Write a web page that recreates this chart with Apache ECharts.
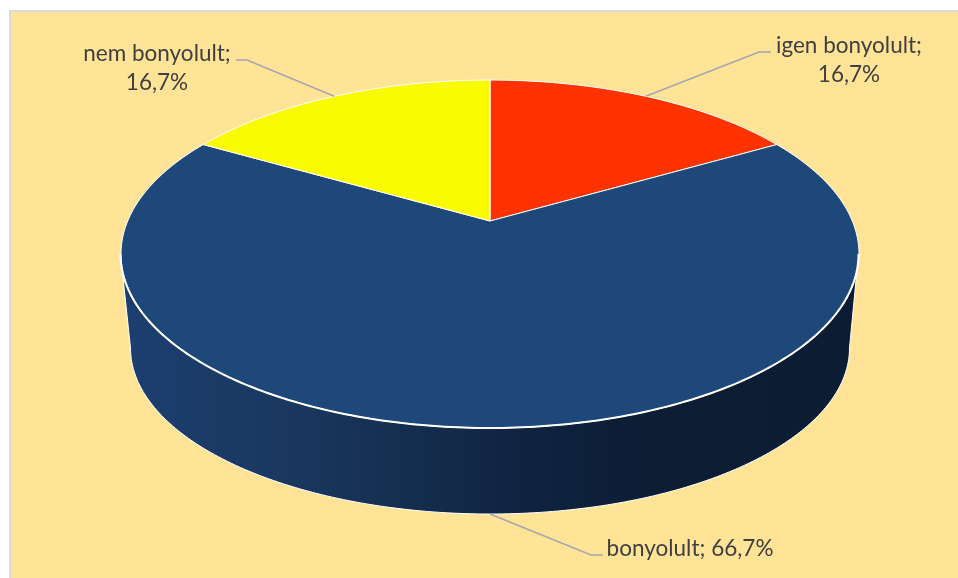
<!DOCTYPE html>
<html><head><meta charset="utf-8">
<style>html,body{margin:0;padding:0;background:#fff}#c{width:958px;height:578px}</style>
<script src="https://cdn.jsdelivr.net/npm/echarts@6/dist/echarts.min.js"></script>
</head><body><div id="c"></div>
<script>
var categories = ['igen bonyolult', 'bonyolult', 'nem bonyolult'];
var values = [16.7, 66.7, 16.7];
var sliceColors = ['#FF3300', '#1F487A', '#FAFA00'];
// label layout: text anchor, line break, leader elbow points
var labelLayouts = [
  {x: 849, y: 60, brk: true, elbow: [[759, 52], [771, 52]]},
  {x: 690, y: 549, brk: false, elbow: [[591, 555], [603, 555]]},
  {x: 157, y: 68.5, brk: true, elbow: [[247, 60], [236, 60]]}
];
var total = values.reduce(function (a, b) { return a + b; }, 0);
// perspective disc geometry
var CX = 490, CY = 221, A = 362.3, B = 167.7, K = 0.1897;
function project(frac) {
  var t = frac * 2 * Math.PI;
  var u = Math.sin(t), v = Math.cos(t), d = 1 + K * v;
  return [CX + A * u / d, CY - B * v / d];
}
function arcPts(f0, f1) {
  var n = Math.max(2, Math.ceil(Math.abs(f1 - f0) * 360)), p = [];
  for (var i = 0; i <= n; i++) p.push(project(f0 + (f1 - f0) * i / n));
  return p;
}
function frontRim() { // left-most to right-most of the top ellipse, through the front
  var p = [], ex = 489.5, ey = 254, rx = 369, ry = 174;
  for (var a = 180; a >= 0; a -= 1) {
    var r = a * Math.PI / 180;
    p.push([ex + rx * Math.cos(r), ey + ry * Math.sin(r)]);
  }
  return p;
}
function bottomRim() {
  var p = [], ex = 490, ey = 348, rx = 359.5, ry = 166;
  for (var a = 0; a <= 180; a += 1) {
    var r = a * Math.PI / 180;
    p.push([ex + rx * Math.cos(r), ey + ry * Math.sin(r)]);
  }
  return p;
}
var wallGradient = new echarts.graphic.LinearGradient(0, 0, 1, 0, [
  {offset: 0, color: '#1C3F70'},
  {offset: 0.22, color: '#1A3860'},
  {offset: 0.42, color: '#142C4C'},
  {offset: 0.55, color: '#0F2340'},
  {offset: 0.72, color: '#0C1D34'},
  {offset: 1, color: '#0C1C33'}
]);
var cumulative = [];
values.reduce(function (s, v, i) { cumulative[i] = s; return s + v; }, 0);

function renderItem(params, api) {
  var i = params.dataIndex, val = api.value(0);
  var f0 = cumulative[i] / total, f1 = f0 + val / total;
  var kids = [];
  if (i === 1) {
    var wall = frontRim().concat(bottomRim());
    kids.push({type: 'polygon', shape: {points: wall},
      style: {fill: wallGradient, stroke: '#FFFFFF', lineWidth: 1}});
  }
  var poly = [[CX, CY]].concat(arcPts(f0, f1));
  kids.push({type: 'polygon', shape: {points: poly},
    style: {fill: sliceColors[i], stroke: '#FFFFFF', lineWidth: 1}});
  if (i === 1) {
    kids.push({type: 'polyline', shape: {points: frontRim()},
      style: {fill: null, stroke: '#FFFFFF', lineWidth: 2}});
  }
  var mid = (f0 + f1) / 2, L = labelLayouts[i], anchor = project(mid);
  if (i === 1) anchor = [CX, 514];
  kids.push({type: 'polyline', shape: {points: [anchor].concat(L.elbow)},
    style: {fill: null, stroke: '#A3A8B0', lineWidth: 1.5}});
  var pct = val.toFixed(1).replace('.', ',') + '%';
  kids.push({type: 'text', x: L.x, y: L.y, style: {
    text: categories[i] + ';' + (L.brk ? '\n' : ' ') + pct,
    fill: '#404040', font: '22.5px Lato', lineHeight: 29, align: 'center', verticalAlign: 'middle'
  }, z2: 10});
  return {type: 'group', children: kids};
}
var chart = echarts.init(document.getElementById('c'), null, {renderer: 'canvas'});
chart.setOption({
  animation: false,
  backgroundColor: '#FFFFFF',
  graphic: [{type: 'rect', z: -10, shape: {x: 10, y: 11, width: 950, height: 569},
    style: {fill: '#FFE396', stroke: '#DADADA', lineWidth: 2}}],
  series: [{type: 'custom', coordinateSystem: 'none', renderItem: renderItem, silent: true,
    data: values.map(function (v, i) { return {name: categories[i], value: [v]}; })}]
});
</script></body></html>
